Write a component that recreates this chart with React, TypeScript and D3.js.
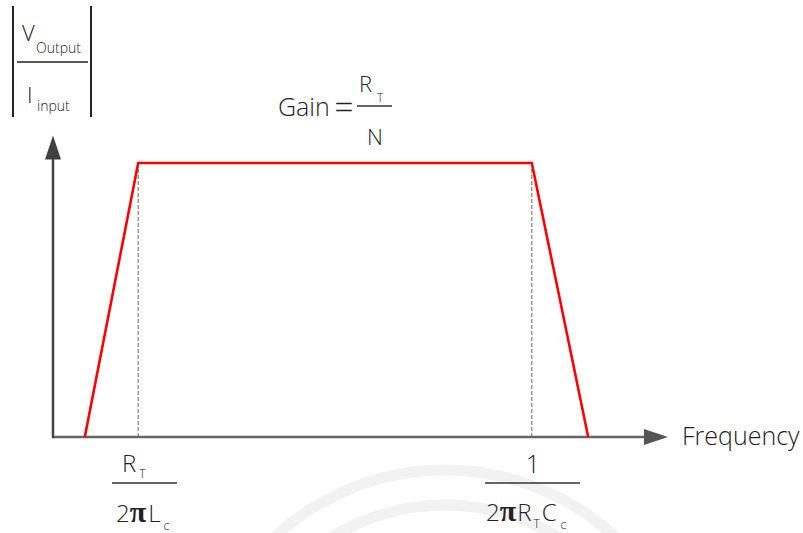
import React, { useEffect, useRef } from 'react';
import * as d3 from 'd3';

// frequency response (trapezoid), frequency in arbitrary units 0..100
const responseFreq = [5.3, 14.2, 79.8, 89.2];
const responseGain = [0, 1, 1, 0];
// corner frequencies marked with dashed guides
const cornerFreq = [14.2, 79.8];
const axisMax = { freq: 102.5, gain: 1.1 };
const axisTitles = ['Frequency'];

const W = 803;
const H = 533;
const FONT = '"Open Sans", "Noto Sans", sans-serif';
const TXT = '#222';

const App = () => {
  const ref = useRef<SVGGElement>(null);

  useEffect(() => {
    const g = d3.select(ref.current);
    g.selectAll('*').remove();

    const x = d3.scaleLinear().domain([0, 100]).range([53, 653]);
    const y = d3.scaleLinear().domain([0, 1]).range([437, 163]);

    // watermark arcs
    const wm = g.append('g').attr('fill', 'none').attr('stroke', '#f2f2f2').attr('stroke-width', 11);
    wm.append('circle').attr('cx', 445).attr('cy', 720).attr('r', 250);
    wm.append('circle').attr('cx', 445).attr('cy', 720).attr('r', 215);

    // dashed guides
    g.selectAll('.guide')
      .data(cornerFreq)
      .enter()
      .append('line')
      .attr('class', 'guide')
      .attr('x1', d => x(d)).attr('x2', d => x(d))
      .attr('y1', y(1)).attr('y2', y(0))
      .attr('stroke', '#666')
      .attr('stroke-width', 1)
      .attr('stroke-dasharray', '4,2');

    // axes
    const x0 = x(0);
    const y0 = y(0);
    const xEnd = x(axisMax.freq);
    const yEnd = y(axisMax.gain);
    g.append('line')
      .attr('x1', x0).attr('x2', xEnd - 22)
      .attr('y1', y0).attr('y2', y0)
      .attr('stroke', '#666').attr('stroke-width', 2.5);
    g.append('line')
      .attr('x1', x0).attr('x2', x0)
      .attr('y1', y0 + 1.2).attr('y2', yEnd + 22)
      .attr('stroke', '#444').attr('stroke-width', 2.5);
    g.append('path')
      .attr('d', `M${xEnd},${y0} L${xEnd - 24},${y0 - 8} L${xEnd - 24},${y0 + 8} Z`)
      .attr('fill', '#555');
    g.append('path')
      .attr('d', `M${x0},${yEnd} L${x0 - 8},${yEnd + 24} L${x0 + 8},${yEnd + 24} Z`)
      .attr('fill', '#404040');

    // response line
    const line = d3.line<number>()
      .x((d, i) => x(responseFreq[i]))
      .y(d => y(d));
    g.append('path')
      .datum(responseGain)
      .attr('fill', 'none')
      .attr('stroke', '#ff0000')
      .attr('stroke-width', 2.6)
      .attr('stroke-linejoin', 'miter')
      .attr('d', line);

    // axis title
    g.append('text')
      .attr('x', 682).attr('y', 445)
      .attr('font-size', 25)
      .attr('fill', TXT)
      .text(axisTitles[0]);
  }, []);

  const piStyle = { fontFamily: '"Liberation Serif", serif', fontWeight: 700 as const, fontSize: 30 };

  return (
    <svg
      width={W}
      height={H}
      style={{ position: 'absolute', left: 0, top: 0, background: '#fff' }}
      fontFamily={FONT}
      fontWeight={300}
    >
      <g ref={ref} />
      <g fill={TXT}>
        {/* |V_Output / I_input| */}
        <line x1={13} x2={13} y1={6} y2={117} stroke="#222" strokeWidth={2} />
        <line x1={91} x2={91} y1={6} y2={117} stroke="#222" strokeWidth={2} />
        <line x1={17} x2={88} y1={62} y2={62} stroke="#222" strokeWidth={1.5} />
        <text x={22} y={41} fontSize={22}>V</text>
        <text x={36} y={53} fontSize={14}>Output</text>
        <text x={27} y={103} fontSize={22}>I</text>
        <text x={37} y={111} fontSize={14}>input</text>

        {/* Gain = R_T / N */}
        <text x={278} y={116} fontSize={25}>Gain</text>
        <text x={344} y={119} fontSize={34} textAnchor="middle">=</text>
        <text x={359} y={92} fontSize={22}>R</text>
        <text x={377} y={102} fontSize={12}>T</text>
        <line x1={357} x2={392} y1={106} y2={106} stroke="#333" strokeWidth={1.5} />
        <text x={375} y={145} fontSize={22} textAnchor="middle">N</text>

        {/* R_T / 2πL_c */}
        <text x={122} y={472} fontSize={24}>R<tspan fontSize={12} dy={6} dx={3}>T</tspan></text>
        <line x1={112} x2={177} y1={483} y2={483} stroke="#333" strokeWidth={1.5} />
        <text x={116} y={522} fontSize={24}>2<tspan style={piStyle}>π</tspan><tspan dx={2}>L</tspan><tspan fontSize={12} dy={8} dx={3}>c</tspan></text>

        {/* 1 / 2πR_T C_c */}
        <text x={533} y={473} fontSize={25} textAnchor="middle">1</text>
        <line x1={485} x2={580} y1={483} y2={483} stroke="#333" strokeWidth={1.5} />
        <text x={486} y={521} fontSize={24}>2<tspan style={piStyle}>π</tspan><tspan dx={1}>R</tspan><tspan fontSize={12} dy={7} dx={2}>T</tspan><tspan dy={-7} dx={2}>C</tspan><tspan fontSize={12} dy={8} dx={4}>c</tspan></text>
      </g>
    </svg>
  );
};

export default App;
